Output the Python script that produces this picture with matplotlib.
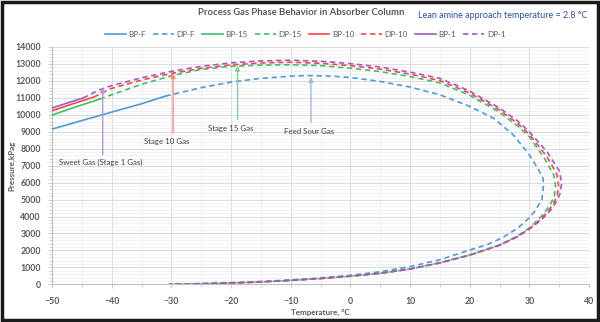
import matplotlib
matplotlib.use("Agg")
import matplotlib.pyplot as plt
from matplotlib.patches import Rectangle
from matplotlib.ticker import MultipleLocator

plt.rcParams['font.family'] = ['Lato', 'DejaVu Sans']

# ---------------- data ----------------
bp_f_T = [-50, -45, -40, -35, -31]
bp_f_P = [9155, 9660, 10160, 10650, 11100]
dp_f_T = [-31, -25, -20, -15, -10, -7, -3, 0, 5, 10, 15, 20, 24, 27.3, 30, 31.5, 32.3, 32.4,
          32.1, 31, 30, 28, 25.5, 23, 20, 15, 10, 5, 0, -5, -10, -15, -20, -25, -30.5]
dp_f_P = [11100, 11600, 11930, 12150, 12280, 12310, 12280, 12200, 11970, 11640, 11180, 10500, 9800, 8820, 7640, 6800, 6250, 5900,
          5000, 4350, 3920, 3300, 2750, 2350, 2020, 1450, 1040, 740, 530, 380, 260, 170, 100, 45, 0]

bp_15_T = [-50, -46, -42]
bp_15_P = [9980, 10470, 10925]
dp_15_T = [-42, -40, -35, -30, -25, -20, -15, -10, -5, 0, 5, 10, 15, 20, 25, 28, 30, 32.5, 34.1, 34.4,
           34.2, 33.5, 32.5, 31, 30, 28, 25, 20, 15, 10, 5, 0, -5, -10, -15, -20, -25, -30.3]
dp_15_P = [10925, 11180, 11800, 12300, 12680, 12860, 12930, 12950, 12900, 12750, 12550, 12260, 11880, 11150, 10150, 9350, 8700, 7450, 6450, 5800,
           5200, 4700, 4200, 3650, 3330, 2840, 2320, 1730, 1270, 900, 650, 480, 340, 230, 140, 75, 30, 0]

bp_10_T = [-50, -46.5, -43]
bp_10_P = [10240, 10650, 11045]
dp_10_T = [-43, -40, -35, -30, -25, -20, -15, -10, -5, 0, 5, 10, 15, 20, 25, 28, 30, 33, 34.6, 34.9,
           34.7, 34.0, 33.0, 31.5, 30, 28, 25, 20, 15, 10, 5, 0, -5, -10, -15, -20, -25, -30.3]
dp_10_P = [11045, 11560, 12050, 12440, 12740, 12940, 13060, 13100, 13040, 12900, 12700, 12400, 12020, 11280, 10280, 9500, 8850, 7500, 6500, 5850,
           5250, 4750, 4250, 3720, 3280, 2820, 2310, 1720, 1260, 900, 650, 480, 340, 230, 140, 75, 30, 0]

bp_1_T = [-50, -47.4, -44.8]
bp_1_P = [10400, 10700, 10990]
dp_1_T = [-44.8, -42, -40, -35, -30, -25, -20, -15, -10, -5, 0, 5, 10, 15, 20, 25, 28, 30, 33, 35.1, 35.4,
          35.1, 34.4, 33.4, 32, 30, 28, 25, 20, 15, 10, 5, 0, -5, -10, -15, -20, -25, -30.3]
dp_1_P = [10990, 11480, 11720, 12180, 12560, 12860, 13060, 13180, 13220, 13160, 13020, 12820, 12520, 12150, 11400, 10400, 9650, 9000, 7800, 6650, 5900,
          5300, 4800, 4300, 3800, 3250, 2800, 2300, 1720, 1270, 900, 650, 480, 340, 230, 140, 75, 30, 0]

labels = ["BP-F", "DP-F", "BP-15", "DP-15", "BP-10", "DP-10", "BP-1", "DP-1"]

# annotations: text, text (T, P), arrow tail (T, P), arrow tip (T, P)
ann_text = ["Sweet Gas (Stage 1 Gas)", "Stage 10 Gas", "Stage 15 Gas", "Feed Sour Gas"]
ann_text_T = [-41.8, -30.8, -20.1, -6.95]
ann_text_P = [7180, 8420, 9170, 9010]
ann_T = [-41.5, -29.7, -18.9, -6.6]
ann_tail_P = [7640, 8940, 9700, 9545]
ann_tip_P = [11620, 12460, 12910, 12230]

# ---------------- style ----------------
c_blue = '#4A9BDC'
c_green = '#3DBE6B'
c_red = '#FF4343'
c_purple = '#9A5CC6'
arrow_cols = ['#B79AD6', '#FF8A8A', '#7ED39A', '#9DBBE0']

W, H = 600, 322
fig = plt.figure(figsize=(W / 100, H / 100), dpi=100)
ax = fig.add_axes([52 / W, 1 - 284.3 / H, 537 / W, 237.3 / H])


def fit_width(txt, target_px):
    fig.canvas.draw()
    r = fig.canvas.get_renderer()
    w = txt.get_window_extent(r).width
    txt.set_fontsize(txt.get_fontsize() * target_px / w)


lw = 1.2
dash = (3.2, 2.2)
series = [
    (bp_f_T, bp_f_P, c_blue, '-'), (dp_f_T, dp_f_P, c_blue, '--'),
    (bp_15_T, bp_15_P, c_green, '-'), (dp_15_T, dp_15_P, c_green, '--'),
    (bp_10_T, bp_10_P, c_red, '-'), (dp_10_T, dp_10_P, c_red, '--'),
    (bp_1_T, bp_1_P, c_purple, '-'), (dp_1_T, dp_1_P, c_purple, '--'),
]
for (t, p, c, ls), lab in zip(series, labels):
    if ls == '--':
        ax.plot(t, p, color=c, lw=lw, linestyle=(0, dash), label=lab, zorder=3)
    else:
        ax.plot(t, p, color=c, lw=lw, label=lab, zorder=3)

ann_objs = []
for i in range(len(ann_text)):
    ax.annotate('', xy=(ann_T[i], ann_tip_P[i]), xytext=(ann_T[i], ann_tail_P[i]),
                arrowprops=dict(arrowstyle='-|>', color=arrow_cols[i], lw=1.0,
                                mutation_scale=7, shrinkA=0, shrinkB=0), zorder=4)
    ann_objs.append(ax.text(ann_text_T[i], ann_text_P[i], ann_text[i], ha='center', va='center',
                            fontsize=6.3, color='#404040', zorder=5))

ax.set_xlim(-50, 40)
ax.set_ylim(0, 14000)
ax.xaxis.set_major_locator(MultipleLocator(10))
ax.xaxis.set_minor_locator(MultipleLocator(5))
ax.yaxis.set_major_locator(MultipleLocator(1000))
ax.yaxis.set_minor_locator(MultipleLocator(200))
ax.grid(which='major', color='#DCDCDC', lw=0.8)
ax.grid(which='minor', color='#EFEFEF', lw=0.6)
ax.set_axisbelow(True)
for s in ['top', 'right']:
    ax.spines[s].set_visible(False)
for s in ['left', 'bottom']:
    ax.spines[s].set_color('#BFBFBF')
    ax.spines[s].set_linewidth(0.8)
ax.tick_params(which='both', colors='#BFBFBF', labelcolor='#595959', labelsize=6.3)
ax.tick_params(which='major', length=3, width=0.6)
ax.tick_params(which='minor', length=2, width=0.5)
for lab in ax.get_xticklabels() + ax.get_yticklabels():
    lab.set_fontweight('bold')
ax.tick_params(axis='x', pad=6)
ax.tick_params(axis='y', pad=5)

xl = ax.set_xlabel('Temperature, °C', fontsize=6.5, color='#595959', fontweight='bold')
ax.xaxis.set_label_coords(0.5, (284.3 - 309) / 237.3)
yl = ax.set_ylabel('Pressure,kPag', fontsize=6.5, color='#595959', fontweight='bold')
ax.yaxis.set_label_coords((15 - 52) / 537, 0.5)

title = fig.text(301 / W, 1 - 12.7 / H, 'Process Gas Phase Behavior in Absorber Column',
                 ha='center', va='center', fontsize=8.5, color='#595959', fontweight='bold')
lean = fig.text(418 / W, 1 - 15 / H, 'Lean amine approach temperature = 2.8 °C', ha='left', va='center',
                fontsize=6.3, color='#2F4FA0')

leg = fig.legend(loc='center', bbox_to_anchor=(305 / W, 1 - 34.5 / H), ncol=8, frameon=False,
                 fontsize=5.8, handlelength=2.6, handletextpad=0.3, columnspacing=0.9,
                 labelcolor='#595959')

fig.add_artist(Rectangle((0.003, 0.005), 0.994, 0.99, transform=fig.transFigure,
                         fill=False, edgecolor='#1A1A1A', lw=2.5))

# fit text sizes to the reference's measured widths
fit_width(title, 206)
fit_width(lean, 169)
fit_width(xl, 59)
fit_width(ann_objs[3], 50)
s = ann_objs[3].get_fontsize()
for o in ann_objs:
    o.set_fontsize(s)
fig.canvas.draw()
r = fig.canvas.get_renderer()
lw_px = leg.get_window_extent(r).width
leg_scale = 404 / lw_px
for t in leg.get_texts():
    t.set_fontsize(5.8 * leg_scale)
yl.set_fontsize(xl.get_fontsize())

fig.savefig('out.png', dpi=100)
